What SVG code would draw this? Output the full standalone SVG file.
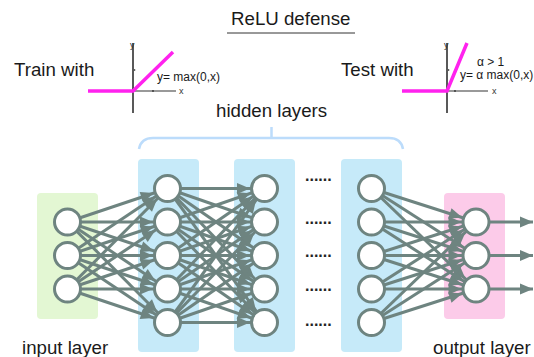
<svg xmlns="http://www.w3.org/2000/svg" width="534" height="357" viewBox="0 0 534 357">
<style>
.t{font-family:"Liberation Sans",Arial,sans-serif;fill:#1a1a1a}
.big{font-size:18.7px}
.sm{font-size:12px}
.ax{font-size:9px;fill:#333}
.e{stroke:#6e8480;stroke-width:3;fill:none}
.n{fill:#fff;stroke:#6e8480;stroke-width:3}
.dots{font-family:"Liberation Sans",Arial,sans-serif;font-size:16px;font-weight:bold;fill:#222}
</style>
<defs>
<marker id="ah" markerUnits="userSpaceOnUse" viewBox="0 -6 30 12" markerWidth="30" markerHeight="12" refX="28.5" refY="0" orient="auto">
<path d="M1,-5.5 L14,0 L1,5.5 z" fill="#6e8480"/>
</marker>
<marker id="ao" markerUnits="userSpaceOnUse" viewBox="0 -6 14 12" markerWidth="14" markerHeight="12" refX="13" refY="0" orient="auto">
<path d="M0,-5.5 L13,0 L0,5.5 z" fill="#6e8480"/>
</marker>
</defs>
<rect width="534" height="357" fill="#fff"/>

<g id="title">
<text class="t big" x="231" y="25">ReLU defense</text>
<line x1="227" y1="33" x2="355" y2="33" stroke="#333" stroke-width="1"/>
</g>

<g id="train">
<text class="t big" x="14" y="76">Train with</text>
<line x1="133" y1="43" x2="133" y2="113" stroke="#222" stroke-width="1.5"/>
<line x1="133" y1="91" x2="176" y2="91" stroke="#777" stroke-width="1.5"/>
<circle cx="134.5" cy="70" r="0.9" fill="#555"/>
<circle cx="153" cy="91" r="0.9" fill="#333"/>
<text class="t ax" x="130" y="48">y</text>
<text class="t ax" x="179" y="94">x</text>
<polyline points="88,91 133,91 173,52" fill="none" stroke="#ff22ee" stroke-width="3.5"/>
<text class="t sm" x="157" y="81">y= max(0,x)</text>
</g>

<g id="test">
<text class="t big" x="341" y="76">Test with</text>
<line x1="447" y1="43" x2="447" y2="113" stroke="#222" stroke-width="1.5"/>
<line x1="447" y1="91" x2="488" y2="91" stroke="#777" stroke-width="1.5"/>
<circle cx="448.5" cy="70" r="0.9" fill="#555"/>
<circle cx="455" cy="91" r="0.9" fill="#333"/>
<text class="t ax" x="444" y="48">y</text>
<text class="t ax" x="492" y="94">x</text>
<polyline points="402,91 447,91 467,43" fill="none" stroke="#ff22ee" stroke-width="3.5"/>
<text class="t sm" x="477" y="66">α &gt; 1</text>
<text class="t sm" x="460" y="79">y= α max(0,x)</text>
</g>

<g id="hidden-brace">
<text class="t big" x="216" y="117">hidden layers</text>
<path d="M139,149 Q141,138 153,138 L389,138 Q401,138 403,149 M271.5,138 L271.5,127" fill="none" stroke="#bcdcfb" stroke-width="2.5"/>
</g>

<g id="boxes">
<rect x="37" y="193" width="61" height="126" rx="4" fill="#e3f7d3"/>
<rect x="138" y="159" width="61" height="193" rx="4" fill="#c6eaf9"/>
<rect x="234" y="159" width="61" height="193" rx="4" fill="#c6eaf9"/>
<rect x="341" y="159" width="61" height="193" rx="4" fill="#c6eaf9"/>
<rect x="444" y="193" width="61" height="126" rx="4" fill="#fccbe9"/>
</g>

<g id="connectors" class="e" marker-end="url(#ah)">
<line x1="67.5" y1="222" x2="167.5" y2="188.5"/>
<line x1="67.5" y1="222" x2="167.5" y2="222"/>
<line x1="67.5" y1="222" x2="167.5" y2="255.5"/>
<line x1="67.5" y1="222" x2="167.5" y2="289"/>
<line x1="67.5" y1="222" x2="167.5" y2="322.5"/>
<line x1="67.5" y1="255.5" x2="167.5" y2="188.5"/>
<line x1="67.5" y1="255.5" x2="167.5" y2="222"/>
<line x1="67.5" y1="255.5" x2="167.5" y2="255.5"/>
<line x1="67.5" y1="255.5" x2="167.5" y2="289"/>
<line x1="67.5" y1="255.5" x2="167.5" y2="322.5"/>
<line x1="67.5" y1="289" x2="167.5" y2="188.5"/>
<line x1="67.5" y1="289" x2="167.5" y2="222"/>
<line x1="67.5" y1="289" x2="167.5" y2="255.5"/>
<line x1="67.5" y1="289" x2="167.5" y2="289"/>
<line x1="67.5" y1="289" x2="167.5" y2="322.5"/>

<line x1="167.5" y1="188.5" x2="264.5" y2="188.5"/>
<line x1="167.5" y1="188.5" x2="264.5" y2="222"/>
<line x1="167.5" y1="188.5" x2="264.5" y2="255.5"/>
<line x1="167.5" y1="188.5" x2="264.5" y2="289"/>
<line x1="167.5" y1="188.5" x2="264.5" y2="322.5"/>
<line x1="167.5" y1="222" x2="264.5" y2="188.5"/>
<line x1="167.5" y1="222" x2="264.5" y2="222"/>
<line x1="167.5" y1="222" x2="264.5" y2="255.5"/>
<line x1="167.5" y1="222" x2="264.5" y2="289"/>
<line x1="167.5" y1="222" x2="264.5" y2="322.5"/>
<line x1="167.5" y1="255.5" x2="264.5" y2="188.5"/>
<line x1="167.5" y1="255.5" x2="264.5" y2="222"/>
<line x1="167.5" y1="255.5" x2="264.5" y2="255.5"/>
<line x1="167.5" y1="255.5" x2="264.5" y2="289"/>
<line x1="167.5" y1="255.5" x2="264.5" y2="322.5"/>
<line x1="167.5" y1="289" x2="264.5" y2="188.5"/>
<line x1="167.5" y1="289" x2="264.5" y2="222"/>
<line x1="167.5" y1="289" x2="264.5" y2="255.5"/>
<line x1="167.5" y1="289" x2="264.5" y2="289"/>
<line x1="167.5" y1="289" x2="264.5" y2="322.5"/>
<line x1="167.5" y1="322.5" x2="264.5" y2="188.5"/>
<line x1="167.5" y1="322.5" x2="264.5" y2="222"/>
<line x1="167.5" y1="322.5" x2="264.5" y2="255.5"/>
<line x1="167.5" y1="322.5" x2="264.5" y2="289"/>
<line x1="167.5" y1="322.5" x2="264.5" y2="322.5"/>

<line x1="371.5" y1="188.5" x2="476" y2="222"/>
<line x1="371.5" y1="188.5" x2="476" y2="255.5"/>
<line x1="371.5" y1="188.5" x2="476" y2="289"/>
<line x1="371.5" y1="222" x2="476" y2="222"/>
<line x1="371.5" y1="222" x2="476" y2="255.5"/>
<line x1="371.5" y1="222" x2="476" y2="289"/>
<line x1="371.5" y1="255.5" x2="476" y2="222"/>
<line x1="371.5" y1="255.5" x2="476" y2="255.5"/>
<line x1="371.5" y1="255.5" x2="476" y2="289"/>
<line x1="371.5" y1="289" x2="476" y2="222"/>
<line x1="371.5" y1="289" x2="476" y2="255.5"/>
<line x1="371.5" y1="289" x2="476" y2="289"/>
<line x1="371.5" y1="322.5" x2="476" y2="222"/>
<line x1="371.5" y1="322.5" x2="476" y2="255.5"/>
<line x1="371.5" y1="322.5" x2="476" y2="289"/>

<line x1="490" y1="222" x2="533" y2="222" marker-end="url(#ao)"/>
<line x1="490" y1="255.5" x2="533" y2="255.5" marker-end="url(#ao)"/>
<line x1="490" y1="289" x2="533" y2="289" marker-end="url(#ao)"/>
</g>

<g id="input-layer">
<circle class="n" cx="67.5" cy="222" r="13"/>
<circle class="n" cx="67.5" cy="255.5" r="13"/>
<circle class="n" cx="67.5" cy="289" r="13"/>
<text class="t big" x="22" y="354">input layer</text>
</g>
<g id="hidden-1">
<circle class="n" cx="167.5" cy="188.5" r="13"/>
<circle class="n" cx="167.5" cy="222" r="13"/>
<circle class="n" cx="167.5" cy="255.5" r="13"/>
<circle class="n" cx="167.5" cy="289" r="13"/>
<circle class="n" cx="167.5" cy="322.5" r="13"/>
</g>
<g id="hidden-2">
<circle class="n" cx="264.5" cy="188.5" r="13"/>
<circle class="n" cx="264.5" cy="222" r="13"/>
<circle class="n" cx="264.5" cy="255.5" r="13"/>
<circle class="n" cx="264.5" cy="289" r="13"/>
<circle class="n" cx="264.5" cy="322.5" r="13"/>
</g>
<g id="ellipsis">
<text class="dots" x="305" y="181">......</text>
<text class="dots" x="305" y="224">......</text>
<text class="dots" x="305" y="257">......</text>
<text class="dots" x="305" y="291">......</text>
<text class="dots" x="305" y="326">......</text>
</g>
<g id="hidden-3">
<circle class="n" cx="371.5" cy="188.5" r="13"/>
<circle class="n" cx="371.5" cy="222" r="13"/>
<circle class="n" cx="371.5" cy="255.5" r="13"/>
<circle class="n" cx="371.5" cy="289" r="13"/>
<circle class="n" cx="371.5" cy="322.5" r="13"/>
</g>
<g id="output-layer">
<circle class="n" cx="476" cy="222" r="13"/>
<circle class="n" cx="476" cy="255.5" r="13"/>
<circle class="n" cx="476" cy="289" r="13"/>
<text class="t big" x="433" y="354">output layer</text>
</g>
</svg>
